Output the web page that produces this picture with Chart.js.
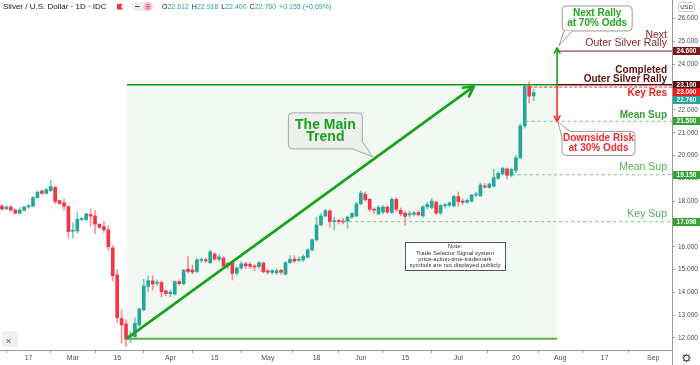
<!DOCTYPE html>
<html><head><meta charset="utf-8">
<script src="https://cdn.jsdelivr.net/npm/chart.js@4.4.0/dist/chart.umd.min.js"></script>
<style>html,body{margin:0;padding:0;background:#fff;overflow:hidden}canvas{display:block}</style>
</head><body>
<canvas id="c" width="700" height="365"></canvas>
<script>
// ---- DATA (daily candles, trading-day index 0 = 7 Feb 2020) ----
const opens = [17.78,17.66,17.74,17.61,17.47,17.60,17.74,17.78,18.15,18.44,
 18.34,18.46,18.60,18.02,17.93,17.76,16.68,16.69,17.20,17.18,
 17.41,17.35,16.99,16.88,16.74,15.95,14.76,12.85,12.61,12.06,
 12.06,12.57,13.23,14.26,14.50,14.40,14.43,14.06,13.94,13.92,
 14.47,14.37,15.01,14.98,14.91,15.40,15.42,15.30,15.68,15.45,
 15.50,15.16,15.30,14.83,15.07,15.25,15.22,15.15,15.13,15.28,
 14.94,14.87,14.85,14.96,14.80,15.30,15.46,15.40,15.42,15.54,
 15.86,16.30,16.96,17.35,17.57,17.10,17.15,17.12,17.13,17.30,
 17.35,17.88,18.30,18.08,17.64,17.44,17.52,17.74,17.50,18.08,
 17.60,17.47,17.40,17.42,17.50,17.35,17.75,17.72,17.95,17.48,
 17.80,17.82,17.79,18.20,18.00,17.95,18.00,18.27,18.23,18.66,
 18.60,18.66,19.00,19.19,19.41,19.13,19.35,19.90,21.30,23.03,
 22.612];
const highs = [17.86,17.80,17.83,17.65,17.72,17.78,17.86,18.20,18.45,18.49,
 18.56,18.93,18.66,18.05,18.10,17.80,17.05,17.50,17.28,17.48,
 17.65,17.60,17.00,17.10,16.90,16.05,15.00,13.23,12.80,12.28,
 12.88,13.30,14.57,14.72,14.72,14.55,14.50,14.10,14.10,14.50,
 14.55,15.00,15.57,15.20,15.50,15.50,15.50,15.85,15.75,15.65,
 15.58,15.30,15.35,15.12,15.35,15.32,15.30,15.22,15.35,15.35,
 15.00,15.00,15.02,15.02,15.35,15.60,15.60,15.55,15.65,15.90,
 16.35,17.30,17.45,17.65,17.62,17.30,17.20,17.25,17.35,17.50,
 17.95,18.45,18.40,18.12,17.70,17.80,17.80,17.80,18.15,18.15,
 17.70,17.55,17.55,17.55,17.60,17.80,17.95,18.10,18.00,17.85,
 17.90,17.98,18.25,18.40,18.10,18.10,18.30,18.40,18.80,18.78,
 18.80,19.40,19.30,19.50,19.45,19.45,20.00,21.40,23.13,23.25,
 22.918];
const lows = [17.61,17.62,17.55,17.44,17.44,17.56,17.70,17.75,18.12,18.30,
 18.30,18.40,17.88,17.85,17.60,16.37,16.38,16.60,17.15,17.18,
 16.90,16.58,16.80,16.60,15.85,14.50,12.70,11.77,11.62,11.78,
 12.00,12.50,13.20,14.03,14.10,14.30,13.80,13.85,13.80,13.88,
 14.30,14.33,14.85,14.80,14.85,15.30,15.30,15.25,15.40,15.35,
 15.10,15.05,14.54,14.75,15.00,15.05,15.05,14.95,15.05,14.85,
 14.80,14.80,14.78,14.80,14.75,15.25,15.30,15.35,15.35,15.50,
 15.80,16.25,16.90,17.30,16.85,16.74,17.00,17.00,16.81,17.25,
 17.30,17.85,18.00,17.55,17.45,17.40,17.45,17.45,17.45,17.55,
 17.35,16.95,17.30,17.35,17.35,17.30,17.65,17.65,17.40,17.40,
 17.70,17.75,17.75,17.78,17.85,17.90,17.95,18.20,18.20,18.55,
 18.55,18.60,18.95,19.15,18.96,19.05,19.25,19.85,21.20,22.30,
 22.40];
const closes = [17.65,17.74,17.61,17.47,17.61,17.74,17.80,18.15,18.39,18.34,
 18.50,18.64,17.98,17.90,17.77,16.66,16.72,17.20,17.23,17.44,
 17.34,16.99,16.85,16.74,16.00,14.73,12.89,12.57,11.94,12.13,
 12.64,13.27,14.28,14.51,14.36,14.45,14.03,13.94,14.01,14.47,
 14.38,14.98,14.91,14.89,15.42,15.43,15.38,15.78,15.46,15.55,
 15.16,15.28,14.83,15.07,15.25,15.16,15.14,15.11,15.30,14.90,
 14.88,14.95,14.95,14.88,15.30,15.45,15.37,15.44,15.57,15.86,
 16.30,16.96,17.35,17.58,17.10,17.13,17.10,17.08,17.30,17.45,
 17.88,18.35,18.06,17.64,17.60,17.72,17.74,17.52,18.08,17.64,
 17.44,17.33,17.45,17.48,17.40,17.75,17.85,18.00,17.48,17.80,
 17.82,17.92,18.20,17.98,17.95,18.03,18.27,18.31,18.71,18.62,
 18.75,19.03,19.22,19.44,19.13,19.38,19.90,21.30,23.03,22.605,
 22.76];
const tickIndex  = [6,16,26,38,48,60,71,81,91,103,116,126,136,147];
const tickLabels = ['17','Mar','16','Apr','15','May','18','Jun','15','Jul','20','Aug','17','Sep'];
const priceTicks = [12,13,14,15,16,17,18,19,20,21,22,23,24,25,26];
const levelValues = [24.6, 23.1, 23.0, 22.76, 21.5, 19.156, 17.098];
const symbolTitle = 'Silver / U.S. Dollar · 1D · IDC';
const noteLines = ['Note:','Trade Selector Signal system','price-action-time-trademark','symbols are not displayed publicly'];

// ---- STYLE / ANNOTATION CONFIG ----
const UP = '#26a69a', DN = '#f23645';
const levelColors = ['#7d1a1a','#5a0d0d','#f21c1c','#26a69a','#36a236','#36a236','#36a236'];
const FONT = '"Liberation Sans", Arial, sans-serif';
const zone = {i0: 28.2, i1: 125.3, top: 23.1, bottom: 11.96};
const trend = {i0: 28.2, v0: 11.98, i1: 106.5, v1: 23.03};
const callouts = [
  {ci: 73.0, cv: 21.08, w: 74, h: 36, fill: '#eef0ee', stroke: '#a3a6a3', tip: [83.75, 19.94], b1: [27, 18], b2: [37, 11],
   lines: ['The Main', 'Trend'], dy: [-6, 6.5], font: 'bold 14px ' + FONT, color: '#19a019'},
  {ci: 134.35, cv: 26.01, w: 70, h: 25, fill: '#ffffff', stroke: '#9a9a9a', tip: [125.7, 24.81], b1: [-33, 12.5], b2: [-25, 12.5],
   lines: ['Next Rally', 'at 70% Odds'], dy: [-5, 5], font: 'bold 10px ' + FONT, color: '#21a821'},
  {ci: 134.65, cv: 20.53, w: 73, h: 24, fill: '#ffffff', stroke: '#9a9a9a', tip: [125.5, 21.47], b1: [-36.5, -5.5], b2: [-28.5, -12],
   lines: ['Downside Risk', 'at 30% Odds'], dy: [-4.8, 4.8], font: 'bold 10px ' + FONT, color: '#f22c2c'}
];

const isUp = closes.map((c, i) => c >= opens[i]);

function rr(ctx, x, y, w, h, r) {
  ctx.beginPath();
  ctx.moveTo(x + r, y); ctx.lineTo(x + w - r, y); ctx.arcTo(x + w, y, x + w, y + r, r);
  ctx.lineTo(x + w, y + h - r); ctx.arcTo(x + w, y + h, x + w - r, y + h, r);
  ctx.lineTo(x + r, y + h); ctx.arcTo(x, y + h, x, y + h - r, r);
  ctx.lineTo(x, y + r); ctx.arcTo(x, y, x + r, y, r); ctx.closePath();
}
function seg(ctx, x1, y1, x2, y2, color, w, dash) {
  ctx.save(); ctx.beginPath(); ctx.strokeStyle = color; ctx.lineWidth = w;
  ctx.setLineDash(dash || []); ctx.moveTo(x1, y1); ctx.lineTo(x2, y2); ctx.stroke(); ctx.restore();
}
function chevron(ctx, tx, ty, ang, len, color, w) {
  ctx.save(); ctx.strokeStyle = color; ctx.lineWidth = w; ctx.lineCap = 'round'; ctx.beginPath();
  [-1, 1].forEach(s => { const a = ang + Math.PI + s * 0.5; ctx.moveTo(tx, ty); ctx.lineTo(tx + len * Math.cos(a), ty + len * Math.sin(a)); });
  ctx.stroke(); ctx.restore();
}

const overlay = {
  id: 'overlay',
  beforeDatasetsDraw(chart) {
    const {ctx, scales: {x, y}} = chart;
    ctx.save();
    ctx.fillStyle = 'rgba(76,175,80,0.07)';
    const x0 = x.getPixelForValue(zone.i0), x1 = x.getPixelForValue(zone.i1);
    const y0 = y.getPixelForValue(zone.top), y1 = y.getPixelForValue(zone.bottom);
    ctx.fillRect(x0, y0, x1 - x0, y1 - y0);
    ctx.restore();
  },
  afterDatasetsDraw(chart) {
    const {ctx, chartArea: ca, scales: {x, y}} = chart;
    const px = v => x.getPixelForValue(v), py = v => y.getPixelForValue(v);
    const zx0 = px(zone.i0), zx1 = px(zone.i1);
    seg(ctx, zx0, py(zone.bottom), zx1, py(zone.bottom), '#62ad52', 2);
    seg(ctx, zx0, py(zone.top), zx1, py(zone.top), '#169616', 1.5);
    seg(ctx, zx1, py(levelValues[1]), ca.right, py(levelValues[1]), '#5a0d0d', 1.5);
    seg(ctx, zx1, py(levelValues[0]) + 0.5, ca.right, py(levelValues[0]) + 0.5, '#a04646', 1.2);
    seg(ctx, px(119), py(levelValues[2]), ca.right, py(levelValues[2]), '#ff3030', 1, [3, 2]);
    seg(ctx, px(118.2), py(levelValues[4]), ca.right, py(levelValues[4]), '#7cc47c', 1, [3, 3]);
    seg(ctx, px(115.1), py(levelValues[5]), ca.right, py(levelValues[5]), '#7cc47c', 1, [3, 3]);
    seg(ctx, px(77), py(levelValues[6]), ca.right, py(levelValues[6]), '#7cc47c', 1, [3, 3]);
    const ax = px(zone.i1);
    const upTip = py(24.72), downTip = py(21.5), base = py(zone.top);
    seg(ctx, ax, base, ax, upTip, '#1a9d1a', 1.6);
    chevron(ctx, ax, upTip, -Math.PI / 2, 6, '#1a9d1a', 1.6);
    seg(ctx, ax, base, ax, downTip, '#ff2a2a', 1.6);
    chevron(ctx, ax, downTip, Math.PI / 2, 6, '#ff2a2a', 1.6);
    const sx = px(trend.i0), sy = py(trend.v0), ex = px(trend.i1), ey = py(trend.v1);
    seg(ctx, sx, sy, ex, ey, '#17a317', 2.6);
    chevron(ctx, ex, ey, Math.atan2(ey - sy, ex - sx), 11, '#17a317', 2.6);
    callouts.forEach(c => {
      const cx = px(c.ci), cy = py(c.cv);
      const bx = cx - c.w / 2, by = cy - c.h / 2;
      ctx.save();
      ctx.fillStyle = c.fill; ctx.strokeStyle = c.stroke; ctx.lineWidth = 1;
      rr(ctx, bx, by, c.w, c.h, 4); ctx.fill(); ctx.stroke();
      const tx = px(c.tip[0]), ty = py(c.tip[1]);
      ctx.beginPath(); ctx.moveTo(cx + c.b1[0], cy + c.b1[1]); ctx.lineTo(tx, ty); ctx.lineTo(cx + c.b2[0], cy + c.b2[1]); ctx.closePath(); ctx.fill();
      ctx.beginPath(); ctx.moveTo(cx + c.b1[0], cy + c.b1[1]); ctx.lineTo(tx, ty); ctx.lineTo(cx + c.b2[0], cy + c.b2[1]); ctx.stroke();
      ctx.fillStyle = c.color; ctx.font = c.font; ctx.textAlign = 'center'; ctx.textBaseline = 'middle';
      c.lines.forEach((t, k) => ctx.fillText(t, cx, cy + c.dy[k]));
      ctx.restore();
    });
    ctx.save();
    const nx = px(102.25), ny = py(15.6);
    ctx.fillStyle = '#fff'; ctx.strokeStyle = '#555'; ctx.lineWidth = 1;
    ctx.fillRect(Math.round(nx - 50) + 0.5, Math.round(ny - 14) + 0.5, 100, 28);
    ctx.strokeRect(Math.round(nx - 50) + 0.5, Math.round(ny - 14) + 0.5, 100, 28);
    ctx.fillStyle = '#333'; ctx.font = '6px ' + FONT; ctx.textAlign = 'center'; ctx.textBaseline = 'middle';
    noteLines.forEach((t, k) => ctx.fillText(t, nx, ny - 9 + k * 6.2));
    ctx.restore();
    ctx.save(); ctx.textAlign = 'right'; ctx.textBaseline = 'middle';
    const rx = ca.right - 5;
    const txt = (t, yy, font, col) => { ctx.font = font; ctx.fillStyle = col; ctx.fillText(t, rx, yy); };
    const n10 = '10.5px ' + FONT, b10 = 'bold 10px ' + FONT;
    txt('Next', py(levelValues[0]) - 16, n10, '#8b2424');
    txt('Outer Silver Rally', py(levelValues[0]) - 7.5, n10, '#8b2424');
    txt('Completed', py(levelValues[1]) - 15, b10, '#5e0f0f');
    txt('Outer Silver Rally', py(levelValues[1]) - 6, b10, '#5e0f0f');
    txt('Key Res', py(levelValues[2]) + 6.5, b10, '#f21c1c');
    txt('Mean Sup', py(levelValues[4]) - 6, b10, '#3a9f3a');
    txt('Mean Sup', py(levelValues[5]) - 8, n10, '#56b056');
    txt('Key Sup', py(levelValues[6]) - 7.5, n10, '#56b056');
    ctx.restore();
  },
  afterDraw(chart) {
    const {ctx, chartArea: ca, scales: {y}} = chart;
    ctx.save();
    seg(ctx, ca.right + 0.5, 0, ca.right + 0.5, 365, '#9598a1', 1);
    const items = levelValues.map((v, k) => ({v, c: levelColors[k], y: y.getPixelForValue(v)})).sort((a, b) => a.y - b.y);
    let prev = -100;
    items.forEach(it => { if (it.y < prev + 7.5) it.y = prev + 7.5; prev = it.y; });
    items.forEach(it => {
      ctx.fillStyle = it.c; ctx.fillRect(ca.right + 1, Math.round(it.y - 4), 700 - ca.right - 1, 8);
      ctx.fillStyle = '#fff'; ctx.font = 'bold 6.5px ' + FONT; ctx.textAlign = 'center'; ctx.textBaseline = 'middle';
      ctx.fillText(it.v.toFixed(3), (ca.right + 700) / 2 + 0.5, Math.round(it.y - 4) + 4.3);
    });
    ctx.strokeStyle = '#c8cad0'; ctx.lineWidth = 1; rr(ctx, 678.5, 2.5, 16, 9, 2); ctx.stroke();
    ctx.fillStyle = '#333'; ctx.font = '6px ' + FONT; ctx.textAlign = 'center'; ctx.textBaseline = 'middle';
    ctx.fillText('USD', 686.5, 7.3);
    ctx.textAlign = 'left'; ctx.fillStyle = '#131722'; ctx.font = '8px ' + FONT;
    ctx.fillText(symbolTitle, 3, 7);
    ctx.fillStyle = '#f23645';
    ctx.beginPath(); ctx.moveTo(117, 4); ctx.lineTo(123, 4); ctx.lineTo(121, 6.7); ctx.lineTo(123, 9.5); ctx.lineTo(117, 9.5); ctx.closePath(); ctx.fill();
    ctx.fillStyle = '#eceef2'; rr(ctx, 132, 2, 21, 9, 4.5); ctx.fill();
    seg(ctx, 135, 6.5, 139.5, 6.5, '#444', 1);
    ctx.fillStyle = '#f7c3cf'; ctx.beginPath(); ctx.arc(147.8, 6.5, 4.5, 0, Math.PI * 2); ctx.fill();
    [4.8, 6.5, 8.2].forEach(yy => seg(ctx, 145.8, yy, 149.8, yy, '#f23645', 0.8));
    const last = closes.length - 1;
    const ch = closes[last] - closes[last - 1];
    const parts = [['O', opens[last]], ['H', highs[last]], ['L', lows[last]], ['C', closes[last]]];
    let hx = 162; ctx.font = '7px ' + FONT;
    parts.forEach(([l, v]) => {
      ctx.fillStyle = '#131722'; ctx.fillText(l, hx, 7); hx += ctx.measureText(l).width;
      const s = v.toFixed(3); ctx.fillStyle = UP; ctx.fillText(s, hx, 7); hx += ctx.measureText(s).width + 3;
    });
    const chs = (ch >= 0 ? '+' : '') + ch.toFixed(3) + ' (' + (ch >= 0 ? '+' : '') + (ch / closes[last - 1] * 100).toFixed(2) + '%)';
    ctx.fillStyle = UP; ctx.fillText(chs, hx, 7);
    ctx.fillStyle = '#eef0f5'; rr(ctx, 2, 331, 16, 16, 3); ctx.fill();
    seg(ctx, 6.5, 339, 10.5, 343, '#555', 1); seg(ctx, 10.5, 339, 6.5, 343, '#555', 1);
    ctx.strokeStyle = '#333'; ctx.lineWidth = 1;
    ctx.beginPath(); ctx.arc(686.5, 358, 2.8, 0, Math.PI * 2); ctx.stroke();
    for (let k = 0; k < 8; k++) { const a = k * Math.PI / 4; seg(ctx, 686.5 + 2.8 * Math.cos(a), 358 + 2.8 * Math.sin(a), 686.5 + 4.2 * Math.cos(a), 358 + 4.2 * Math.sin(a), '#333', 1.2); }
    ctx.restore();
  }
};

new Chart(document.getElementById('c').getContext('2d'), {
  type: 'bar',
  data: {
    datasets: [
      {label: 'wick', data: lows.map((l, i) => ({x: i, y: [l, highs[i]]})),
       backgroundColor: isUp.map(u => u ? 'rgba(38,166,154,0.6)' : 'rgba(242,54,69,0.55)'),
       barThickness: 1, grouped: false, order: 2, borderWidth: 0},
      {label: 'body', data: opens.map((o, i) => ({x: i, y: [o, closes[i]]})),
       backgroundColor: isUp.map(u => u ? UP : DN),
       barThickness: 3, grouped: false, minBarLength: 1, order: 1, borderWidth: 0}
    ]
  },
  options: {
    responsive: false, animation: false, devicePixelRatio: 1,
    layout: {padding: 0},
    plugins: {legend: {display: false}, tooltip: {enabled: false}},
    scales: {
      x: {
        type: 'linear', min: -0.45, max: 151.24, offset: false,
        grid: {display: true, drawOnChartArea: false, drawTicks: true, tickLength: 3, color: '#9598a1'},
        border: {display: true, color: '#9598a1'},
        ticks: {font: {size: 7, family: FONT}, color: '#4a4e59', padding: 1, maxRotation: 0, autoSkip: false,
                callback: (v, k) => tickLabels[k]},
        afterBuildTicks: s => { s.ticks = tickIndex.map(v => ({value: v})); },
        afterFit: s => { s.height = 15; s.paddingLeft = 0; s.paddingRight = 0; }
      },
      y: {
        type: 'linear', position: 'right', min: 11.47, max: 26.82,
        grid: {display: true, drawOnChartArea: false, drawTicks: true, tickLength: 3, color: '#9598a1'},
        border: {display: true, color: '#9598a1'},
        ticks: {font: {size: 6.5, family: FONT}, color: '#4a4e59', padding: 3, callback: v => Number(v).toFixed(3)},
        afterBuildTicks: s => { s.ticks = priceTicks.map(v => ({value: v})); },
        afterFit: s => { s.width = 28; s.paddingTop = 0; s.paddingBottom = 0; }
      }
    }
  },
  plugins: [overlay]
});
</script>
</body></html>
